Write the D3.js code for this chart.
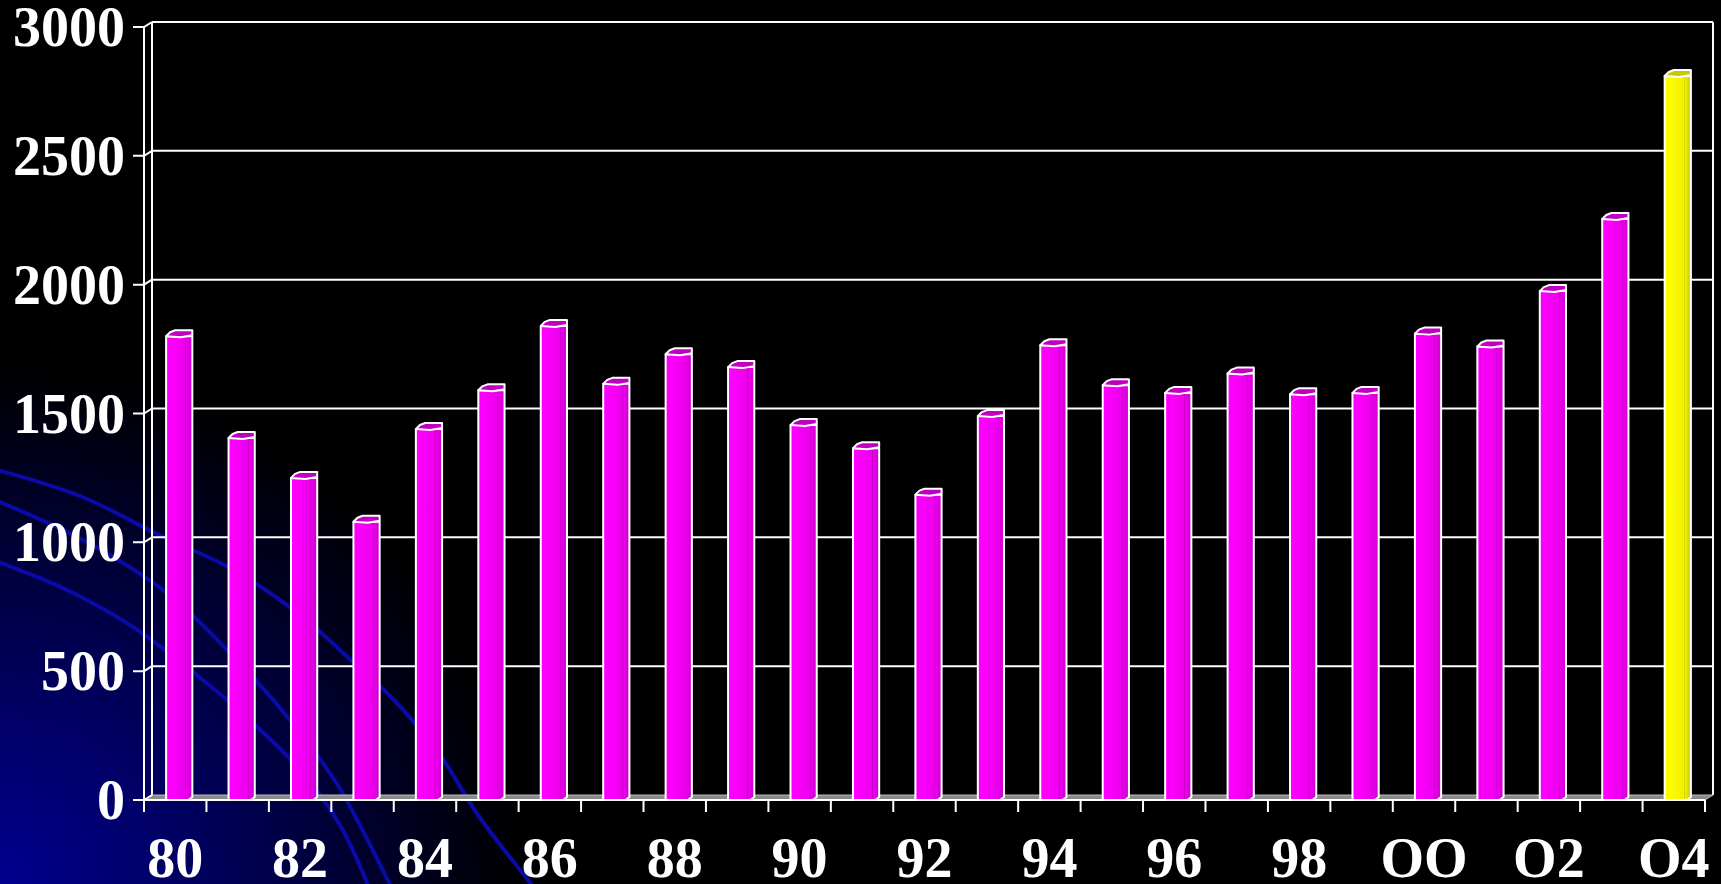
<!DOCTYPE html>
<html>
<head>
<meta charset="utf-8">
<script src="https://cdn.jsdelivr.net/npm/d3@7"></script>
<style>
  html, body { margin: 0; padding: 0; background: #000; overflow: hidden; }
  svg { display: block; }
</style>
</head>
<body>
<div id="chart"></div>
<script>
(() => {
  const width = 1721;
  const height = 884;

  // data
  const years = ["80", "81", "82", "83", "84", "85", "86", "87", "88", "89",
                 "90", "91", "92", "93", "94", "95", "96", "97", "98", "99",
                 "00", "01", "02", "03", "04"];
  const values = [1800, 1405, 1250, 1080, 1440, 1590, 1840, 1615, 1730, 1680,
                  1455, 1365, 1185, 1490, 1765, 1610, 1580, 1655, 1575, 1580,
                  1810, 1760, 1975, 2255, 2810];
  const highlightYear = "04";
  const labelYears = ["80", "82", "84", "86", "88", "90", "92", "94", "96", "98", "00", "02", "04"];
  const labelTexts = ["80", "82", "84", "86", "88", "90", "92", "94", "96", "98", "OO", "O2", "O4"];
  const yTicks = [0, 500, 1000, 1500, 2000, 2500, 3000];

  // background swooshes of the slide template
  const swooshes = [
    [[-10, 468], [80, 496], [163, 537], [230, 568], [300, 615], [353, 662], [394, 700], [440, 755], [478, 815], [540, 895]],
    [[-10, 498], [83, 540], [167, 593], [230, 653], [290, 720], [337, 784], [365, 835], [395, 895]],
    [[-10, 559], [67, 590], [133, 627], [193, 672], [253, 723], [300, 770], [340, 825], [372, 895]]
  ];

  const dx = 8, dy = 5;           // depth of the 3d box
  const left = 144, right = 1705, bottom = 800, top = 27;

  const x = d3.scaleBand().domain(years).range([left, right]);
  const y = d3.scaleLinear().domain([0, 3000]).range([bottom, top]);

  const svg = d3.select("#chart").append("svg")
    .attr("width", width)
    .attr("height", height)
    .attr("viewBox", `0 0 ${width} ${height}`)
    .style("background", "#000");

  const defs = svg.append("defs");

  const glow = defs.append("radialGradient")
    .attr("id", "corner")
    .attr("gradientUnits", "userSpaceOnUse")
    .attr("cx", 0).attr("cy", height).attr("r", 520);
  glow.append("stop").attr("offset", 0).attr("stop-color", "#000090");
  glow.append("stop").attr("offset", 0.45).attr("stop-color", "#000055");
  glow.append("stop").attr("offset", 1).attr("stop-color", "#000000");

  const faceGrad = (id, c1, c2, c3) => {
    const g = defs.append("linearGradient").attr("id", id)
      .attr("x1", 0).attr("x2", 1).attr("y1", 0).attr("y2", 0);
    [[0, c1], [0.1, c1], [0.12, c2], [0.14, c1], [0.72, c2], [0.74, c3], [0.78, c2], [1, c3]]
      .forEach(([o, c]) => g.append("stop").attr("offset", o).attr("stop-color", c));
  };
  faceGrad("magenta", "#ff00ff", "#ec00ec", "#cc00cc");
  faceGrad("yellow", "#ffff00", "#f0f000", "#c8c800");

  // background
  svg.append("rect").attr("width", width).attr("height", height).attr("fill", "url(#corner)");

  const curve = d3.line().curve(d3.curveCatmullRom);
  svg.append("g")
    .selectAll("path")
    .data(swooshes)
    .join("path")
    .attr("d", curve)
    .attr("fill", "none")
    .attr("stroke", "#0a0aa8")
    .attr("stroke-width", 4);

  // back wall: gridlines and edges
  const wall = svg.append("g").attr("stroke", "#fff").attr("stroke-width", 2).attr("fill", "none");
  wall.selectAll("line.grid")
    .data(yTicks.slice(1))
    .join("line")
    .attr("class", "grid")
    .attr("x1", left + dx).attr("x2", right + dx)
    .attr("y1", d => y(d) - dy).attr("y2", d => y(d) - dy);
  wall.append("line")
    .attr("x1", left + dx).attr("x2", left + dx)
    .attr("y1", y(3000) - dy).attr("y2", bottom - dy);
  wall.append("line")
    .attr("x1", right + dx).attr("x2", right + dx)
    .attr("y1", y(3000) - dy).attr("y2", bottom - dy);

  // floor
  svg.append("path")
    .attr("d", `M${left},${bottom}L${left + dx},${bottom - dy}L${right + dx},${bottom - dy}L${right},${bottom}Z`)
    .attr("fill", "#8a8a8a")
    .attr("stroke", "#bdbdbd")
    .attr("stroke-width", 1);

  // bars
  const bw = x.bandwidth() * 0.42;
  const bx = d => x(d) + (x.bandwidth() - bw) / 2 + dx / 2;
  const rows = years.map((d, i) => ({ year: d, value: values[i] }));

  const bars = svg.append("g")
    .selectAll("g")
    .data(rows)
    .join("g");

  bars.append("path")
    .attr("d", d => {
      const x0 = bx(d.year), x1 = x0 + bw, yt = y(d.value);
      return `M${x0},${yt}L${x1},${yt}L${x1},${bottom - 3}L${x1 - 4},${bottom}L${x0},${bottom}Z`;
    })
    .attr("fill", d => d.year === highlightYear ? "url(#yellow)" : "url(#magenta)")
    .attr("stroke", "#fff")
    .attr("stroke-width", 2)
    .attr("stroke-linejoin", "round");

  bars.append("path")
    .attr("d", d => {
      const x0 = bx(d.year), x1 = x0 + bw, yt = y(d.value);
      return `M${x0},${yt}L${x0 + 4},${yt - 4}L${x0 + bw * 0.35},${yt - 6}L${x1},${yt - 6}` +
             `L${x1},${yt - 1}L${x0 + bw * 0.55},${yt + 1}Z`;
    })
    .attr("fill", d => d.year === highlightYear ? "#c8c800" : "#c000c0")
    .attr("stroke", "#fff")
    .attr("stroke-width", 2)
    .attr("stroke-linejoin", "round");

  // front axes
  const axes = svg.append("g").attr("stroke", "#fff").attr("stroke-width", 2).attr("fill", "none");
  axes.append("line")
    .attr("x1", left).attr("x2", left)
    .attr("y1", y(3000)).attr("y2", bottom);
  axes.append("line")
    .attr("x1", left - 11).attr("x2", right)
    .attr("y1", bottom).attr("y2", bottom);
  axes.selectAll("path.ytick")
    .data(yTicks)
    .join("path")
    .attr("class", "ytick")
    .attr("d", d => `M${left - 11},${y(d)}L${left},${y(d)}L${left + dx},${y(d) - dy}`);
  axes.selectAll("line.xtick")
    .data([...years.map(d => x(d)), right])
    .join("line")
    .attr("class", "xtick")
    .attr("x1", d => d).attr("x2", d => d)
    .attr("y1", bottom).attr("y2", bottom + 12);

  // labels
  const font = "'Times New Roman', 'Liberation Serif', serif";
  svg.append("g")
    .attr("font-family", font)
    .attr("font-weight", "bold")
    .attr("font-size", 56)
    .attr("fill", "#fff")
    .attr("text-anchor", "end")
    .selectAll("text")
    .data(yTicks)
    .join("text")
    .attr("x", 125)
    .attr("y", d => y(d) + 19)
    .text(d => d);

  svg.append("g")
    .attr("font-family", font)
    .attr("font-weight", "bold")
    .attr("font-size", 56)
    .attr("fill", "#fff")
    .attr("text-anchor", "middle")
    .selectAll("text")
    .data(labelYears)
    .join("text")
    .attr("x", d => x(d) + x.bandwidth() / 2)
    .attr("y", 877)
    .text((d, i) => labelTexts[i]);
})();
</script>
</body>
</html>
